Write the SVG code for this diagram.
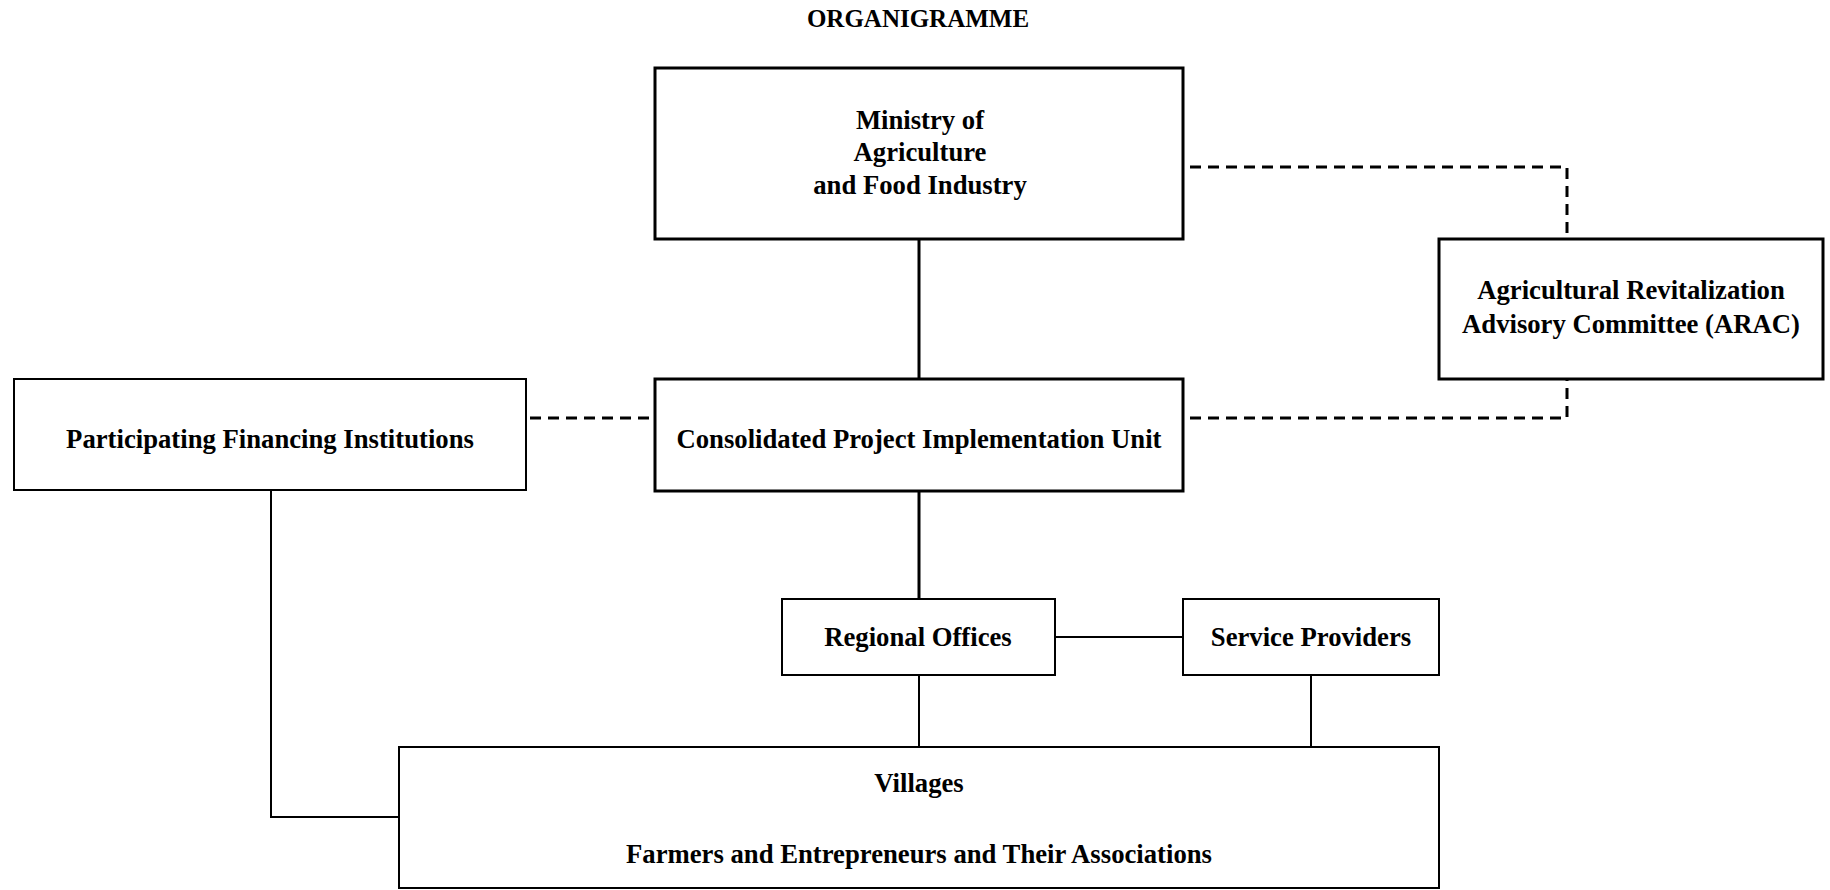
<svg xmlns="http://www.w3.org/2000/svg" width="1830" height="890" viewBox="0 0 1830 890">
<style>
.t{font-family:"Liberation Serif","Times New Roman",serif;font-weight:bold;font-size:26.7px;fill:#000;text-anchor:middle}
.title{font-size:25px}
.bx{fill:#fff;stroke:#000}
.thick{stroke-width:3}
.thin{stroke-width:2}
.c{fill:none;stroke:#000}
.d{stroke-dasharray:11 7;stroke-width:3}
</style>
<rect width="1830" height="890" fill="#fff"/>
<text class="t title" x="918" y="27">ORGANIGRAMME</text>
<g id="connectors">
<line class="c" x1="919" y1="239" x2="919" y2="379" stroke-width="3"/>
<line class="c" x1="919" y1="491" x2="919" y2="599" stroke-width="3"/>
<line class="c" x1="1055" y1="637" x2="1183" y2="637" stroke-width="2"/>
<line class="c" x1="919" y1="675" x2="919" y2="747" stroke-width="2"/>
<line class="c" x1="1311" y1="675" x2="1311" y2="747" stroke-width="2"/>
<polyline class="c" points="271,490 271,817 399,817" stroke-width="2"/>
<polyline class="c d" points="1190,167 1567,167 1567,239"/>
<polyline class="c d" points="1190,418 1567,418 1567,379"/>
<line class="c d" x1="530" y1="418" x2="652" y2="418"/>
</g>
<g id="ministry">
<rect class="bx thick" x="655" y="68" width="528" height="171"/>
<text class="t" x="920" y="129">Ministry of</text>
<text class="t" x="920" y="161">Agriculture</text>
<text class="t" x="920" y="194">and Food Industry</text>
</g>
<g id="arac">
<rect class="bx thick" x="1439" y="239" width="384" height="140"/>
<text class="t" x="1631" y="299">Agricultural Revitalization</text>
<text class="t" x="1631" y="333">Advisory Committee (ARAC)</text>
</g>
<g id="cpiu">
<rect class="bx thick" x="655" y="379" width="528" height="112"/>
<text class="t" x="919" y="448">Consolidated Project Implementation Unit</text>
</g>
<g id="pfi">
<rect class="bx thin" x="14" y="379" width="512" height="111"/>
<text class="t" x="270" y="448">Participating Financing Institutions</text>
</g>
<g id="regional">
<rect class="bx thin" x="782" y="599" width="273" height="76"/>
<text class="t" x="918" y="646">Regional Offices</text>
</g>
<g id="service">
<rect class="bx thin" x="1183" y="599" width="256" height="76"/>
<text class="t" x="1311" y="646">Service Providers</text>
</g>
<g id="villages">
<rect class="bx thin" x="399" y="747" width="1040" height="141"/>
<text class="t" x="919" y="792">Villages</text>
<text class="t" x="919" y="863">Farmers and Entrepreneurs and Their Associations</text>
</g>
</svg>
